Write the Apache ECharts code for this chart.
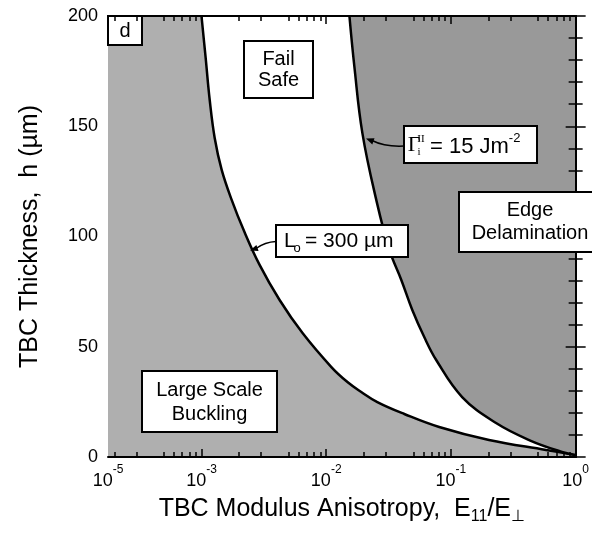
<!DOCTYPE html>
<html>
<head>
<meta charset="utf-8">
<script src="https://cdn.jsdelivr.net/npm/echarts@6/dist/echarts.min.js"></script>
<style>
html, body { margin: 0; padding: 0; background: #fff; }
#chart { width: 592px; height: 533px; }
</style>
</head>
<body>
<div id="chart"></div>
<script>
// x: modulus anisotropy E11/E_perp, y: TBC thickness h (um)
var lengthCurveX = [1.0e-3, 1.08e-3, 1.164e-3, 1.276e-3, 1.452e-3, 1.746e-3, 2.178e-3, 2.924e-3, 4.23e-3, 6.46e-3,
  0.0110, 0.0148, 0.0191, 0.0257, 0.0423, 0.0805, 0.202, 0.578, 1.0];
var lengthCurveH = [200, 181, 161.9, 144.7, 130.2, 116.6, 102.9, 87.1, 71.2, 56.2,
  40.8, 34.0, 29.5, 24.9, 19.5, 13.6, 7.7, 3.2, 0.9];

var toughCurveX = [0.01535, 0.01683, 0.0195, 0.0252, 0.0321, 0.0400, 0.049, 0.0611, 0.0762, 0.123, 0.23, 0.423, 0.776, 1.0];
var toughCurveH = [200, 176.9, 146.9, 116.6, 93.9, 80.3, 66.7, 54.4, 44.0, 27.2, 15.4, 7.7, 2.3, 0.9];

var xTickValues = [1.78e-4, 1e-3, 1e-2, 1e-1, 1];
var xTickExps = ['-5', '-3', '-2', '-1', '0'];
var xMinorMults = [2, 3, 5, 6, 7, 8, 9];
var yMax = 200;

var FONT = '"Liberation Sans", Arial, Helvetica, sans-serif';
var SERIF = '"Liberation Serif", "DejaVu Serif", serif';

function lg(v) { return Math.log10(v); }

var xMin = lg(xTickValues[0]);
var xMax = lg(xTickValues[xTickValues.length - 1]);
var xLabelPos = xTickValues.map(lg);
var xMajorPos = xLabelPos.slice(1);
var xMinorPos = [];
for (var e = -4; e < 0; e++) {
  xMinorMults.forEach(function (m) {
    var p = lg(m * Math.pow(10, e));
    if (p > xMin && p < xMax) xMinorPos.push(p);
  });
}

var lengthPts = lengthCurveX.map(function (x, i) { return [lg(x), lengthCurveH[i]]; });
var toughPts = toughCurveX.map(function (x, i) { return [lg(x), toughCurveH[i]]; });

function xLabel(v) {
  for (var i = 0; i < xLabelPos.length; i++) {
    if (Math.abs(xLabelPos[i] - v) < 1e-6) return '{b|10}{s|' + xTickExps[i] + '}';
  }
  return '';
}

function xAx(pos, ticks, len, main) {
  var bottom = main && pos === 'bottom';
  return {
    type: 'value', min: xMin, max: xMax, position: pos, z: 10,
    axisLine: { show: main, lineStyle: { color: '#000', width: 2 } },
    axisTick: { show: true, inside: true, length: len, customValues: ticks, lineStyle: { color: '#000', width: 1.5 } },
    axisLabel: bottom ? {
      customValues: xLabelPos, formatter: xLabel, margin: 7, showMinLabel: true, showMaxLabel: true,
      rich: {
        b: { fontFamily: FONT, fontSize: 18, color: '#000', lineHeight: 26, verticalAlign: 'bottom' },
        s: { fontFamily: FONT, fontSize: 12, color: '#000', lineHeight: 26, verticalAlign: 'top' }
      }
    } : { show: false },
    splitLine: { show: false },
    name: bottom ? '{n|TBC Modulus Anisotropy,  E}{u|11}{n|/E}{u|⊥}' : '',
    nameLocation: 'middle', nameGap: 36,
    nameTextStyle: {
      rich: {
        n: { fontFamily: FONT, fontSize: 25, color: '#000', lineHeight: 32, verticalAlign: 'middle' },
        u: { fontFamily: FONT, fontSize: 16, color: '#000', lineHeight: 32, verticalAlign: 'bottom' }
      }
    }
  };
}

function yAx(pos) {
  var left = pos === 'left';
  return {
    type: 'value', min: 0, max: yMax, interval: 50, position: pos, z: 10,
    axisLine: { show: true, lineStyle: { color: '#000', width: 2 } },
    axisTick: { inside: true, length: 10, lineStyle: { color: '#000', width: 1.5 } },
    minorTick: { show: true, splitNumber: 5, length: 7, lineStyle: { color: '#000', width: 1.5 } },
    axisLabel: { show: left, fontFamily: FONT, fontSize: 18, color: '#000', margin: 10 },
    splitLine: { show: false },
    name: left ? 'TBC Thickness,  h (µm)' : '',
    nameLocation: 'middle', nameGap: 65, nameRotate: 90,
    nameTextStyle: { fontFamily: FONT, fontSize: 25, color: '#000' }
  };
}

function box(x, y, w, h, z) {
  return { type: 'rect', z: z || 5, shape: { x: x, y: y, width: w, height: h },
    style: { fill: '#fff', stroke: '#000', lineWidth: 2 } };
}
function txt(x, y, s, size, z, extra) {
  var st = { text: s, x: x, y: y, fill: '#000', font: (size || 20) + 'px ' + FONT,
    textAlign: 'center', textVerticalAlign: 'middle' };
  if (extra) for (var k in extra) st[k] = extra[k];
  return { type: 'text', z: z || 6, style: st };
}

var chart = echarts.init(document.getElementById('chart'));
chart.setOption({
  backgroundColor: '#fff',
  animation: false,
  grid: { left: 108, right: 15, top: 16, bottom: 76, show: true, backgroundColor: '#afafaf', borderWidth: 0 },
  xAxis: [
    xAx('bottom', xMajorPos, 8, true),
    xAx('bottom', xMinorPos, 5, false),
    xAx('top', xMajorPos, 8, true),
    xAx('top', xMinorPos, 5, false)
  ],
  yAxis: [yAx('left'), yAx('right')],
  series: [
    {
      // L0 = 300 um: fail-safe region lies above it
      type: 'line', data: lengthPts, smooth: 0.4, showSymbol: false, z: 2,
      lineStyle: { color: '#000', width: 2.5 },
      areaStyle: { color: '#fff', opacity: 1, origin: 'end' }
    },
    {
      // Gamma = 15 J/m2: edge delamination above it
      type: 'line', data: toughPts, smooth: 0.4, showSymbol: false, z: 3,
      lineStyle: { color: '#000', width: 2.5 },
      areaStyle: { color: '#999999', opacity: 1, origin: 'end' }
    }
  ],
  graphic: [
    box(108, 16, 34, 29), txt(125, 31, 'd', 20),
    box(244, 41, 69, 57), txt(278.5, 70, 'Fail\nSafe', 20, 6, { lineHeight: 21 }),
    box(142, 371, 135, 61), txt(209.5, 402, 'Large Scale\nBuckling', 20, 6, { lineHeight: 24 }),
    box(459, 192, 145, 60, 20), txt(530, 222, 'Edge\nDelamination', 20, 21, { lineHeight: 23 }),
    // Gamma label
    box(404, 126, 133, 37),
    txt(414, 145, 'Γ', 22, 6, { font: '22px ' + SERIF }),
    txt(421, 139, 'II', 11, 6, { font: '11px ' + SERIF }),
    txt(419, 152, 'i', 11, 6, { font: '11px ' + SERIF }),
    txt(430, 145, '{n|= 15 Jm}{s|-2}', 22, 6, {
      textAlign: 'left',
      rich: {
        n: { fontFamily: FONT, fontSize: 22, lineHeight: 26, verticalAlign: 'bottom', fill: '#000' },
        s: { fontFamily: FONT, fontSize: 13, lineHeight: 26, verticalAlign: 'top', fill: '#000' }
      }
    }),
    { type: 'bezierCurve', z: 6, shape: { x1: 404, y1: 146, x2: 372, y2: 140.5, cpx1: 385, cpy1: 147 },
      style: { stroke: '#000', lineWidth: 1.5, fill: null } },
    { type: 'polygon', z: 6, shape: { points: [[366, 138.5], [374.5, 138.2], [372.3, 144.4]] }, style: { fill: '#000' } },
    // L0 label
    box(276, 225, 132, 32),
    txt(284, 241, 'L', 21, 6, { textAlign: 'left' }),
    txt(297, 248, 'o', 13, 6),
    txt(305, 241, '= 300 µm', 21, 6, { textAlign: 'left' }),
    { type: 'bezierCurve', z: 6, shape: { x1: 276, y1: 241.5, x2: 256, y2: 248.5, cpx1: 265, cpy1: 242 },
      style: { stroke: '#000', lineWidth: 1.5, fill: null } },
    { type: 'polygon', z: 6, shape: { points: [[250, 250.5], [258.6, 250.9], [256.4, 245.0]] }, style: { fill: '#000' } }
  ]
});
</script>
</body>
</html>
